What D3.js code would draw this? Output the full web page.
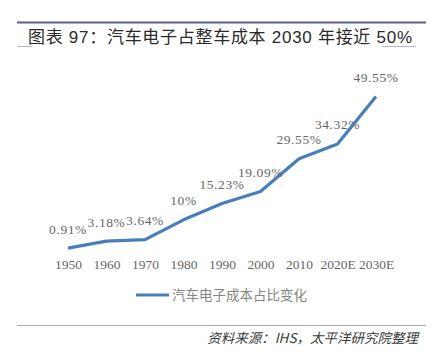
<!DOCTYPE html>
<html><head><meta charset="utf-8">
<script src="https://cdn.jsdelivr.net/npm/d3@7"></script>
<style>body{margin:0;background:#fff}svg{display:block}</style>
</head><body>
<script>
const categories = ["1950","1960","1970","1980","1990","2000","2010","2020E","2030E"];
const values = [0.91, 3.18, 3.64, 10, 15.23, 19.09, 29.55, 34.32, 49.55];
const valueLabels = ["0.91%","3.18%","3.64%","10%","15.23%","19.09%","29.55%","34.32%","49.55%"];
const seriesName = "汽车电子成本占比变化";
const titleText = "图表 97：汽车电子占整车成本 2030 年接近 50%";
const sourceText = "资料来源：IHS，太平洋研究院整理";

const W = 440, H = 354;
const svg = d3.select("body").append("svg").attr("width", W).attr("height", H);

// Header lines
svg.append("line").attr("x1",17).attr("x2",426).attr("y1",22.5).attr("y2",22.5)
  .attr("stroke","#5d5d8c").attr("stroke-width",2);
svg.append("line").attr("x1",17).attr("x2",32).attr("y1",46.5).attr("y2",46.5)
  .attr("stroke","#b4b4d2").attr("stroke-width",1);
svg.append("line").attr("x1",382).attr("x2",416).attr("y1",46.5).attr("y2",46.5)
  .attr("stroke","#b4b4d2").attr("stroke-width",1);
svg.append("text").attr("x",28).attr("y",43)
  .attr("font-family","'Liberation Sans','Noto Sans CJK SC',sans-serif")
  .attr("font-size",17).attr("fill","#2a2a2a")
  .attr("textLength",384).attr("lengthAdjust","spacing")
  .text(titleText);

const x = d3.scalePoint().domain(categories).range([68, 376]);
const y = d3.scaleLinear().domain([0, 50]).range([251, 95]);

// x axis labels (no axis line)
const xAxis = d3.axisBottom(x).tickSize(0).tickPadding(0);
const gx = svg.append("g").attr("transform","translate(0,259)").call(xAxis);
gx.select(".domain").remove();
gx.selectAll("text")
  .attr("font-family","'Liberation Serif','Times New Roman',serif")
  .attr("font-size",13.5).attr("fill","#666").attr("dy","0.71em");

const line = d3.line().x((d,i)=>x(categories[i])).y(d=>y(d));
svg.append("path").datum(values).attr("d",line)
  .attr("fill","none").attr("stroke","#4a7ebb").attr("stroke-width",3.2)
  .attr("stroke-linejoin","round").attr("stroke-linecap","butt");

svg.append("g").selectAll("text").data(values).join("text")
  .attr("x",(d,i)=>x(categories[i]))
  .attr("y",d=>y(d)-14.5)
  .attr("text-anchor","middle")
  .attr("font-family","'Liberation Serif','Times New Roman',serif")
  .attr("font-size",13.5).attr("fill","#666").attr("letter-spacing",0.6)
  .text((d,i)=>valueLabels[i]);

// legend
svg.append("line").attr("x1",136).attr("x2",169).attr("y1",295).attr("y2",295)
  .attr("stroke","#4a7ebb").attr("stroke-width",3.2);
svg.append("text").attr("x",172).attr("y",300)
  .attr("font-family","'Noto Sans CJK SC',sans-serif")
  .attr("font-size",13.5).attr("fill","#858585")
  .text(seriesName);

// source
svg.append("line").attr("x1",17).attr("x2",426).attr("y1",325.5).attr("y2",325.5)
  .attr("stroke","#a9a9d0").attr("stroke-width",1);
svg.append("text").attr("x",418).attr("y",343)
  .attr("text-anchor","end")
  .attr("font-family","'Noto Sans CJK SC',sans-serif")
  .attr("font-style","italic")
  .attr("font-size",13.5).attr("fill","#3a3a3a")
  .text(sourceText);
</script>
</body></html>
